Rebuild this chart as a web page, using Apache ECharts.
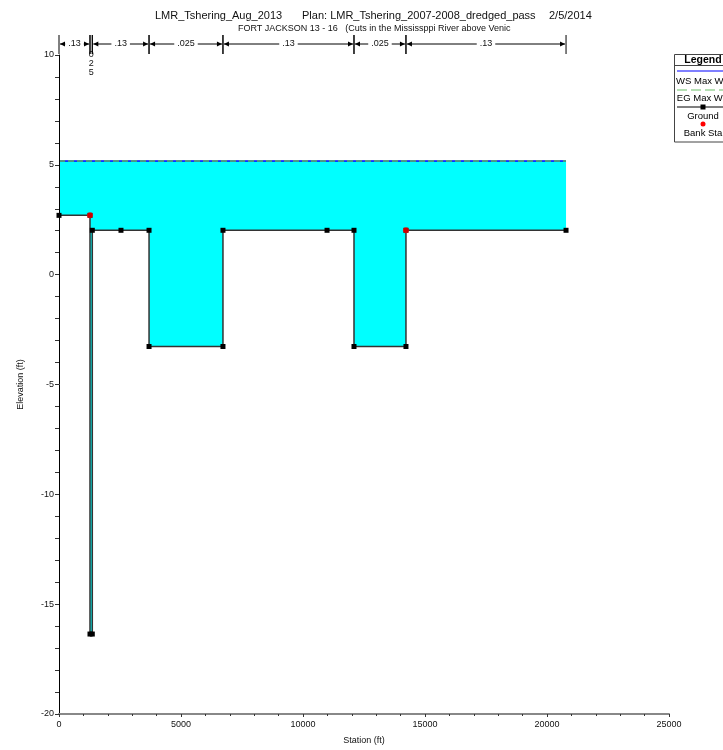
<!DOCTYPE html>
<html>
<head>
<meta charset="utf-8">
<script src="https://cdn.jsdelivr.net/npm/echarts@6/dist/echarts.min.js"></script>
<style>
  html, body { margin: 0; padding: 0; background: #fff; }
  #chart { width: 723px; height: 750px; }
</style>
</head>
<body>
<div id="chart"></div>
<script>
// Cross-section ground profile: station (ft) and elevation (ft)
const groundStation = [0, 1270, 1270, 1365, 1365, 2540, 3690, 3690, 6720, 6720, 10985, 12090, 12090, 14220, 14220, 20780];
const groundElev    = [2.7, 2.7, -16.36, -16.36, 2.02, 2.02, 2.02, -3.27, -3.27, 2.02, 2.02, 2.02, -3.27, -3.27, 2.02, 2.02];

// Bank stations
const bankStation = [1270, 14220];
const bankElev    = [2.7, 2.02];

// Max water surface and energy grade elevations (ft)
const wsElev = 5.17;
const egElev = 5.17;

// Manning's n breaks along the section
const nBreaks = [0, 1270, 1365, 3690, 6720, 12090, 14220, 20780];
const nValues = ['.13', '.025', '.13', '.025', '.13', '.025', '.13'];

// Axis ranges
const stationTicks = [0, 5000, 10000, 15000, 20000, 25000];
const elevTicks = [-20, -15, -10, -5, 0, 5, 10];

const FONT = 'Liberation Sans, Arial, sans-serif';
const chart = echarts.init(document.getElementById('chart'), null, { renderer: 'canvas' });

const groundData = groundStation.map((s, i) => [s, groundElev[i]]);
const bankData = bankStation.map((s, i) => [s, bankElev[i]]);
const first = groundStation[0], last = groundStation[groundStation.length - 1];
const nSegments = nValues.map((v, i) => [nBreaks[i], nBreaks[i + 1], i]);

function waterPolygon(params, api) {
  const pts = [api.coord([first, wsElev])];
  for (let i = 0; i < groundStation.length; i++) pts.push(api.coord([groundStation[i], groundElev[i]]));
  pts.push(api.coord([last, wsElev]));
  return { type: 'polygon', shape: { points: pts }, style: { fill: '#00ffff' } };
}

function nLabel(params, api) {
  const x1 = api.coord([api.value(0), 10])[0];
  const x2 = api.coord([api.value(1), 10])[0];
  const top = api.coord([0, 10])[1];
  const y = top - 11;
  const label = nValues[params.dataIndex];
  const ch = [];
  const stroke = { stroke: '#000', lineWidth: 1 };
  // boundary bars
  ch.push({ type: 'line', shape: { x1: x1, y1: y - 9, x2: x1, y2: y + 10 }, style: stroke });
  ch.push({ type: 'line', shape: { x1: x2, y1: y - 9, x2: x2, y2: y + 10 }, style: stroke });
  const w = x2 - x1;
  const cx = (x1 + x2) / 2;
  if (w < 20) {
    const digits = label.replace('.', '').split('').join('\n');
    ch.push({ type: 'text', x: cx, y: y + 6, style: { text: digits, font: '9px ' + FONT, fill: '#111', align: 'center', verticalAlign: 'top', lineHeight: 9 } });
  } else {
    const tw = 2.5 + (label.length - 1) * 5;
    ch.push({ type: 'line', shape: { x1: x1 + 1, y1: y, x2: cx - tw / 2 - 3, y2: y }, style: stroke });
    ch.push({ type: 'line', shape: { x1: cx + tw / 2 + 3, y1: y, x2: x2 - 1, y2: y }, style: stroke });
    ch.push({ type: 'polygon', shape: { points: [[x1 + 1, y], [x1 + 6, y - 2.5], [x1 + 6, y + 2.5]] }, style: { fill: '#000' } });
    ch.push({ type: 'polygon', shape: { points: [[x2 - 1, y], [x2 - 6, y - 2.5], [x2 - 6, y + 2.5]] }, style: { fill: '#000' } });
    ch.push({ type: 'text', x: cx, y: y, style: { text: label, font: '9px ' + FONT, fill: '#111', align: 'center', verticalAlign: 'middle' } });
  }
  return { type: 'group', children: ch };
}

const lx = 703;
const LF = '9.5px ' + FONT;
const legendItems = [
  { type: 'rect', shape: { x: 674.5, y: 54.5, width: 60, height: 87.5 }, style: { fill: '#fff', stroke: '#444', lineWidth: 1 } },
  { type: 'text', x: lx, y: 60, style: { text: 'Legend', font: 'bold 10.5px ' + FONT, fill: '#000', align: 'center', verticalAlign: 'middle' } },
  { type: 'line', shape: { x1: 674.5, y1: 65.5, x2: 735, y2: 65.5 }, style: { stroke: '#444', lineWidth: 1 } },
  { type: 'line', shape: { x1: 677, y1: 71, x2: 735, y2: 71 }, style: { stroke: '#0000ff', lineWidth: 1.2 } },
  { type: 'text', x: lx, y: 81, style: { text: 'WS Max WS', font: LF, fill: '#000', align: 'center', verticalAlign: 'middle' } },
  { type: 'line', shape: { x1: 677, y1: 90, x2: 735, y2: 90 }, style: { stroke: '#6abf69', lineWidth: 1.2, lineDash: [10, 4] } },
  { type: 'text', x: lx, y: 98, style: { text: 'EG Max WS', font: LF, fill: '#000', align: 'center', verticalAlign: 'middle' } },
  { type: 'line', shape: { x1: 677, y1: 107, x2: 735, y2: 107 }, style: { stroke: '#000', lineWidth: 1 } },
  { type: 'rect', shape: { x: lx - 2.5, y: 104.5, width: 5, height: 5 }, style: { fill: '#000' } },
  { type: 'text', x: lx, y: 116, style: { text: 'Ground', font: LF, fill: '#000', align: 'center', verticalAlign: 'middle' } },
  { type: 'circle', shape: { cx: lx, cy: 124, r: 2.5 }, style: { fill: '#ff0000' } },
  { type: 'text', x: lx, y: 133, style: { text: 'Bank Sta', font: LF, fill: '#000', align: 'center', verticalAlign: 'middle' } }
];

const option = {
  animation: false,
  backgroundColor: '#fff',
  textStyle: { fontFamily: FONT },
  grid: { left: 59, right: 54, top: 55, bottom: 35 },
  graphic: [
    { type: 'text', left: 155, top: 10, style: { text: 'LMR_Tshering_Aug_2013', font: '11px ' + FONT, fill: '#111' } },
    { type: 'text', left: 302, top: 10, style: { text: 'Plan: LMR_Tshering_2007-2008_dredged_pass', font: '11px ' + FONT, fill: '#111' } },
    { type: 'text', left: 549, top: 10, style: { text: '2/5/2014', font: '11px ' + FONT, fill: '#111' } },
    { type: 'text', left: 238, top: 24, style: { text: 'FORT JACKSON 13 - 16   (Cuts in the Mississppi River above Venic', font: '9px ' + FONT, fill: '#111' } },
    { type: 'group', children: legendItems }
  ],
  xAxis: {
    type: 'value',
    min: stationTicks[0], max: stationTicks[stationTicks.length - 1], interval: stationTicks[1] - stationTicks[0],
    name: 'Station (ft)', nameLocation: 'middle', nameGap: 22,
    nameTextStyle: { fontSize: 9, color: '#111', fontFamily: FONT },
    axisLine: { show: true, onZero: false, lineStyle: { color: '#888', width: 2 } },
    axisTick: { show: true, length: 3, lineStyle: { color: '#333' } },
    minorTick: { show: true, splitNumber: 5, length: 2, lineStyle: { color: '#333' } },
    splitLine: { show: false },
    axisLabel: { fontSize: 9, color: '#111', margin: 6, fontFamily: FONT, formatter: v => String(v) },
    z: 10
  },
  yAxis: {
    type: 'value',
    min: elevTicks[0], max: elevTicks[elevTicks.length - 1], interval: elevTicks[1] - elevTicks[0],
    name: 'Elevation (ft)', nameLocation: 'middle', nameGap: 34, nameRotate: 90,
    nameTextStyle: { fontSize: 9, color: '#111', fontFamily: FONT },
    axisLine: { show: true, onZero: false, lineStyle: { color: '#000', width: 1 } },
    axisTick: { show: true, length: 4, lineStyle: { color: '#333' } },
    minorTick: { show: true, splitNumber: 5, length: 4, lineStyle: { color: '#333' } },
    splitLine: { show: false },
    axisLabel: { fontSize: 9, color: '#111', margin: 5, fontFamily: FONT, formatter: v => String(v) },
    z: 10
  },
  series: [
    {
      type: 'custom', name: 'Water', renderItem: waterPolygon,
      data: [[first, wsElev]], encode: { x: 0, y: 1 }, z: 1, silent: true
    },
    {
      type: 'line', name: 'WS Max WS',
      data: [[first, wsElev], [last, wsElev]],
      symbol: 'none', lineStyle: { color: '#0000ff', width: 1.5 }, z: 2
    },
    {
      type: 'line', name: 'EG Max WS',
      data: [[first, egElev], [last, egElev]],
      symbol: 'none', lineStyle: { color: '#5cb85c', width: 1.5, type: [6, 3] }, z: 3
    },
    {
      type: 'line', name: 'Ground', data: groundData,
      symbol: 'rect', symbolSize: 5, showAllSymbol: true,
      itemStyle: { color: '#000' },
      lineStyle: { color: '#333', width: 1.5 }, z: 4
    },
    {
      type: 'scatter', name: 'Bank Sta', data: bankData,
      symbol: 'circle', symbolSize: 6, itemStyle: { color: '#ff0000' }, z: 5
    },
    {
      type: 'custom', name: 'n values', renderItem: nLabel, clip: false,
      data: nSegments, encode: { x: [0, 1] }, z: 6, silent: true
    }
  ]
};
chart.setOption(option);
</script>
</body>
</html>
